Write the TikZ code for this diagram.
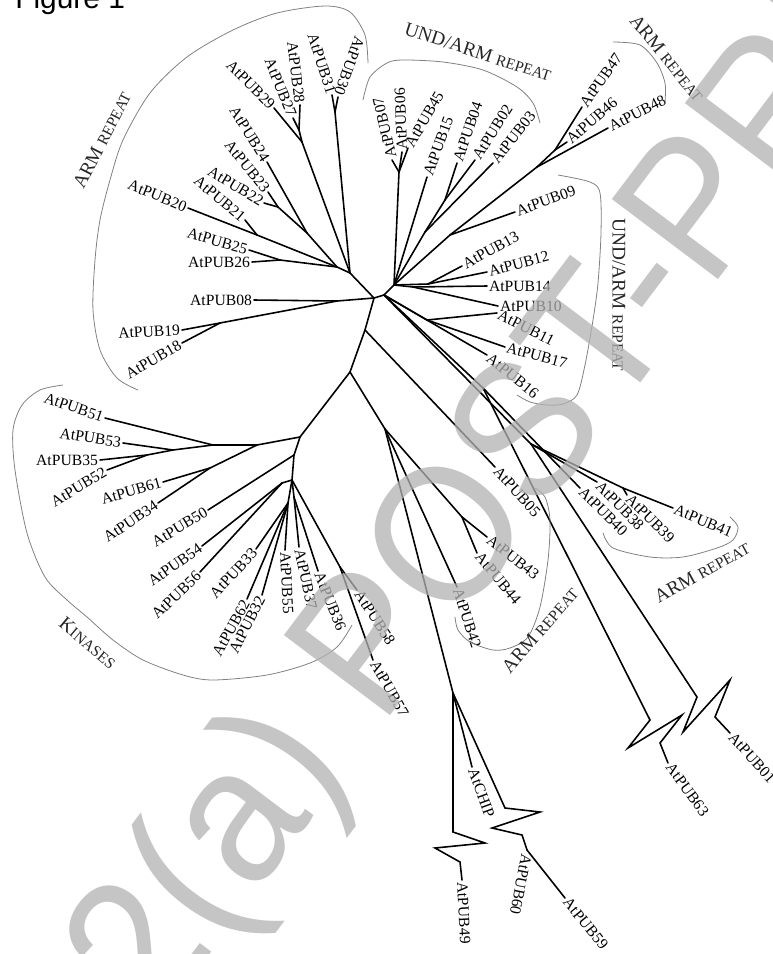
\documentclass[tikz,border=0pt]{standalone}
\usepackage{fontspec}
\setmainfont{Liberation Serif}
\newfontfamily\figfont{Liberation Sans}
\definecolor{wmgray}{gray}{0.7}
\tikzset{
  branch/.style={line width=0.9pt, line cap=round},
  clade/.style={gray, line width=0.45pt},
  lbl/.style={inner sep=1pt, font=\fontsize{8.9}{10}\selectfont},
  grp/.style={inner sep=0pt, text=black!85, font=\fontsize{11}{12}\selectfont},
}
\newcommand\smc[1]{{\fontsize{8.8}{10}\selectfont #1}}

\begin{document}
\begin{tikzpicture}[x=0.02cm,y=-0.02cm]
  % Leaf end with its label after / before it
  \newcommand\rleaf[4]{
    \coordinate (#1) at (#2);
    \node[lbl,rotate=#3,anchor=west] (#1l) at (#1) {#4};
  }
  \newcommand\lleaf[4]{
    \coordinate (#1) at (#2);
    \node[lbl,rotate=#3,anchor=east] (#1l) at (#1) {#4};
  }
  \useasboundingbox (0,0) rectangle (772,954);

  \node[font=\figfont\fontsize{17}{20}\selectfont, anchor=base west, inner sep=0] (fig) at (15,8) {Figure 1};

  % Inner nodes
  \coordinate (c1) at (374,298);
  \coordinate (c2) at (384,295);
  \coordinate (a1) at (350,273);
  \coordinate (a2) at (337,267);
  \coordinate (j3031) at (335,112);
  \coordinate (j2729) at (302,142);
  \coordinate (j2728) at (299,130);
  \coordinate (j2224) at (307,233);
  \coordinate (j2223) at (278,207);
  \coordinate (j2021) at (257,235);
  \coordinate (j2526) at (280,260);
  \coordinate (j08) at (337,301);
  \coordinate (j1918) at (220,323);
  \coordinate (k0) at (365,330);
  \coordinate (k1) at (350,372);
  \coordinate (k2) at (300,437);
  \coordinate (kA) at (257,445);
  \coordinate (kB) at (213,445);
  \coordinate (kC) at (173,450);
  \coordinate (k3552) at (147,455);
  \coordinate (k6134) at (210,468);
  \coordinate (k3) at (294,455);
  \coordinate (k4) at (292,480);
  \coordinate (k5456) at (282,483);
  \coordinate (k5) at (288,503);
  \coordinate (k3736) at (294,497);
  \coordinate (k5857) at (340,567);
  \coordinate (j42) at (385,429);
  \coordinate (j4344) at (462,517);
  \coordinate (jchip) at (453,693);
  \coordinate (j5960) at (527,850);
  \coordinate (h3) at (394,285);
  \coordinate (j1014) at (413,287);
  \coordinate (j1213) at (428,284);
  \coordinate (j0607) at (399,172);
  \coordinate (j0403) at (425,232);
  \coordinate (j0402) at (445,200);
  \coordinate (j09) at (450,235);
  \coordinate (j48) at (537,167);
  \coordinate (j4647) at (555,150);
  \coordinate (j1117) at (427,320);
  \coordinate (j40) at (483,388);
  \coordinate (j38) at (531,444);
  \coordinate (j3941) at (623,488);

  % Leaves
  \rleaf{p07}{392,160}{103}{AtPUB07}
  \rleaf{p06}{402,152}{92}{AtPUB06}
  \rleaf{p45}{408,148}{60}{AtPUB45}
  \rleaf{p15}{427,177}{70}{AtPUB15}
  \rleaf{p04}{457,163}{71}{AtPUB04}
  \rleaf{p02}{475,160}{58}{AtPUB02}
  \rleaf{p03}{493,163}{52}{AtPUB03}
  \rleaf{p47}{582,107}{55}{AtPUB47}
  \rleaf{p46}{567,142}{41}{AtPUB46}
  \rleaf{p48}{608,128}{27}{AtPUB48}
  \rleaf{p09}{515,212}{20}{AtPUB09}
  \rleaf{p13}{462,266}{29}{AtPUB13}
  \rleaf{p12}{487,272}{15}{AtPUB12}
  \rleaf{p14}{487,286}{0}{AtPUB14}
  \rleaf{p10}{498,306}{0}{AtPUB10}
  \rleaf{p11}{497,313}{-27}{AtPUB11}
  \rleaf{p17}{505,347}{-15}{AtPUB17}
  \rleaf{p16}{487,355}{-39}{AtPUB16}
  \rleaf{p05}{495,467}{-48}{AtPUB05}
  \rleaf{p43}{487,537}{-38}{AtPUB43}
  \rleaf{p44}{477,553}{-50}{AtPUB44}
  \rleaf{p42}{457,587}{-72}{AtPUB42}
  \rleaf{p40}{580,488}{-45}{AtPUB40}
  \rleaf{p38}{597,482}{-46}{AtPUB38}
  \rleaf{p39}{627,495}{-45}{AtPUB39}
  \rleaf{p41}{673,508}{-23}{AtPUB41}
  \rleaf{p63}{668,763}{-54}{AtPUB63}
  \rleaf{p01}{730,733}{-48}{AtPUB01}
  \rleaf{p59}{565,898}{-51}{AtPUB59}
  \rleaf{p60}{527,852}{-101}{AtPUB60}
  \rleaf{p49}{462,880}{-87}{AtPUB49}
  \rleaf{pchip}{472,767}{-70}{AtCHIP}
  \rleaf{p57}{373,660}{-60}{AtPUB57}
  \rleaf{p58}{357,590}{-57}{AtPUB58}
  \rleaf{p36}{318,571}{-68}{AtPUB36}
  \rleaf{p37}{299,547}{-78}{AtPUB37}
  \rleaf{p55}{285,550}{-87}{AtPUB55}

  \lleaf{p31}{332,95}{-72}{AtPUB31}
  \lleaf{p30}{338,97}{-110}{AtPUB30}
  \lleaf{p28}{300,105}{-83}{AtPUB28}
  \lleaf{p27}{293,118}{-68}{AtPUB27}
  \lleaf{p29}{274,108}{-45}{AtPUB29}
  \lleaf{p24}{267,162}{-58}{AtPUB24}
  \lleaf{p23}{268,192}{-51}{AtPUB23}
  \lleaf{p22}{264,203}{-31}{AtPUB22}
  \lleaf{p21}{245,220}{-40}{AtPUB21}
  \lleaf{p20}{188,208}{-22}{AtPUB20}
  \lleaf{p25}{249,250}{-16}{AtPUB25}
  \lleaf{p26}{252,262}{0}{AtPUB26}
  \lleaf{p08}{254,300}{0}{AtPUB08}
  \lleaf{p19}{182,330}{3}{AtPUB19}
  \lleaf{p18}{182,343}{30}{AtPUB18}
  \lleaf{p51}{105,418}{-19}{AtPUB51}
  \lleaf{p53}{123,443}{-9}{AtPUB53}
  \lleaf{p35}{100,460}{0}{AtPUB35}
  \lleaf{p52}{107,470}{31}{AtPUB52}
  \lleaf{p61}{163,482}{16}{AtPUB61}
  \lleaf{p34}{158,503}{34}{AtPUB34}
  \lleaf{p50}{208,510}{31}{AtPUB50}
  \lleaf{p54}{202,546}{35}{AtPUB54}
  \lleaf{p56}{200,572}{44}{AtPUB56}
  \lleaf{p33}{256,549}{47}{AtPUB33}
  \lleaf{p62}{247,599}{61}{AtPUB62}
  \lleaf{p32}{262,595}{63}{AtPUB32}

  % Branches
  \foreach \a/\b in {c1/c2, c1/a1, a1/j3031, j3031/p31, j3031/p30, a1/j2729,
      j2729/p29, j2729/j2728, j2728/p28, j2728/p27, a1/a2, a2/j2224,
      j2224/p24, j2224/j2223, j2223/p23, j2223/p22, a2/j2021, j2021/p20,
      j2021/p21, a2/j2526, j2526/p25, j2526/p26, c1/j08, j08/p08, j08/j1918,
      j1918/p19, j1918/p18, c1/k0, k0/p05, k0/k1, k1/k2, k2/kA, kA/kB,
      kB/p51, kB/kC, kC/p53, kC/k3552, k3552/p35, k3552/p52, kA/k6134,
      k6134/p61, k6134/p34, k2/k3, k3/p50, k3/k4, k4/k5456, k5456/p54,
      k5456/p56, k4/k5, k5/p33, k5/p62, k5/p32, k5/p55, k4/k3736,
      k3736/p37, k3736/p36, k4/k5857, k5857/p58, k5857/p57, k1/j42,
      j42/j4344, j4344/p43, j4344/p44, j42/p42, j42/jchip, jchip/pchip,
      c2/h3, h3/j1014, j1014/p14, j1014/p10, h3/j1213, j1213/p12, j1213/p13,
      h3/j0607, j0607/p07, j0607/p06, j0607/p45, h3/p15, h3/j0403,
      j0403/j0402, j0402/p04, j0402/p02, j0403/p03, h3/j09, j09/p09,
      j09/j48, j48/p48, j48/j4647, j4647/p47, j4647/p46, c2/j1117,
      j1117/p11, j1117/p17, c2/p16, c2/j40, j40/p40, c2/j38, j38/p38,
      j38/j3941, j3941/p39, j3941/p41, j5960/p59}
    \draw[branch] (\a) -- (\b);

  % Broken long branches
  \draw[branch] (jchip) -- (453,832) -- (485,843) -- (435,848) -- (460,862) -- (p49);
  \draw[branch] (jchip) -- (505,808) -- (540,812) -- (492,828) -- (522,835) -- (j5960);
  \draw[branch] (j40) -- (650,720) -- (628,748) -- (682,715) -- (660,743) -- (p63);
  \draw[branch] (j38) -- (697,697) -- (683,732) -- (730,680) -- (715,717) -- (p01);

  % Clade brackets
  \draw[clade] plot[smooth] coordinates {(138,390) (117,378) (100,350) (93,310)
    (95,260) (100,220) (110,180) (123,140) (150,93) (187,57) (233,30) (277,13)
    (325,6) (350,12) (365,35) (368,63)};
  \draw[clade] plot[smooth] coordinates {(363,100) (370,77) (387,63) (403,60)
    (443,62) (483,70) (517,87) (533,103) (540,123)};
  \draw[clade] plot[smooth] coordinates {(613,42) (640,45) (657,63) (665,83) (665,102)};
  \draw[clade] plot[smooth] coordinates {(558,175) (590,182) (600,193) (601,233)
    (598,283) (593,320) (585,365) (577,395) (563,404) (547,405) (530,402) (517,395)};
  \draw[clade] plot[smooth] coordinates {(535,488) (545,497) (550,520) (548,560)
    (540,607) (528,637) (510,648) (493,650) (470,642) (458,630) (455,617)};
  \draw[clade] plot[smooth] coordinates {(603,533) (613,548) (650,557) (683,557)
    (717,548) (733,540) (738,527) (730,517)};
  \draw[clade] plot[smooth] coordinates {(63,385) (40,390) (22,405) (13,430)
    (15,470) (27,533) (45,577) (67,600) (87,617) (113,640) (143,660) (183,675)
    (213,680) (267,675) (310,663) (337,647) (352,625)};

  % Clade names
  \node[grp, rotate=63] (gArm1) at (102,140) {ARM \smc{REPEAT}};
  \node[grp, rotate=-18] (gUnd1) at (478,52) {UND/ARM \smc{REPEAT}};
  \node[grp, rotate=-51] (gArm2) at (667,58) {ARM \smc{REPEAT}};
  \node[grp, rotate=-90] (gUnd2) at (619,295) {UND/ARM \smc{REPEAT}};
  \node[grp, rotate=49] (gArm3) at (540,630) {ARM \smc{REPEAT}};
  \node[grp, rotate=29] (gArm4) at (702,572) {ARM \smc{REPEAT}};
  \node[grp, rotate=-40] (gKin) at (88,643) {K\smc{INASES}};

  % Watermark
  \node[font=\figfont\fontsize{110}{115}\selectfont, text=wmgray, text opacity=0.75,
    rotate=53, xscale=0.94] (wm) at (557,411) {2(a) POST-PRINT};
\end{tikzpicture}
\end{document}
